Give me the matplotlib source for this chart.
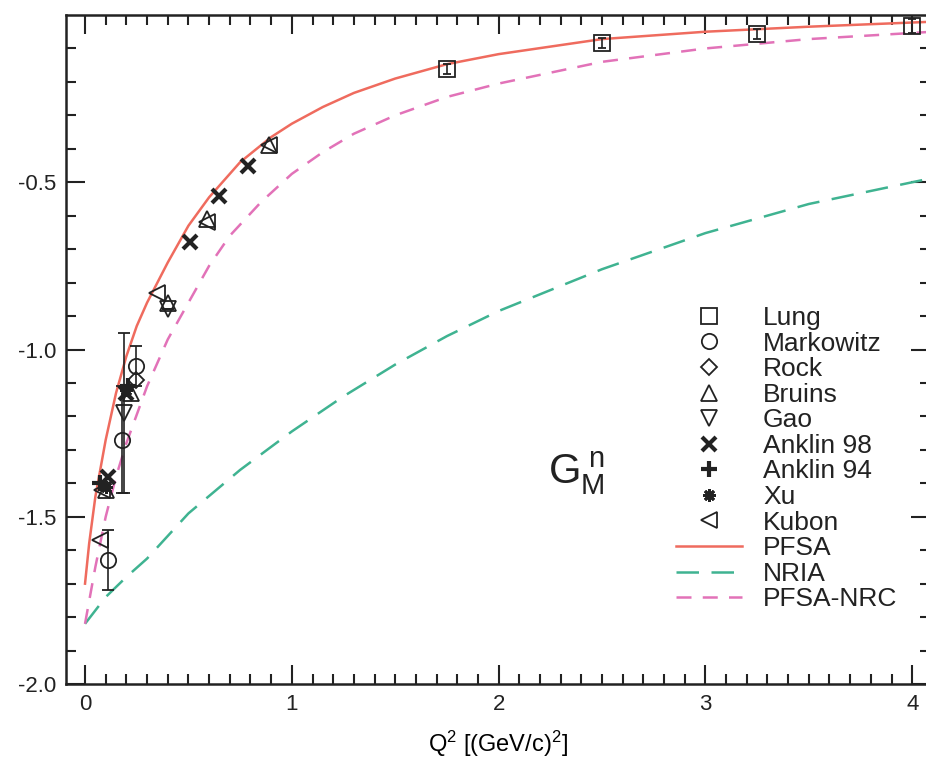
import numpy as np
import matplotlib
matplotlib.use('Agg')
import matplotlib.pyplot as plt
from matplotlib.lines import Line2D

plt.rcParams['font.family'] = ['Liberation Sans', 'DejaVu Sans']
plt.rcParams['mathtext.fontset'] = 'custom'
plt.rcParams['mathtext.rm'] = 'Liberation Sans'
plt.rcParams['mathtext.it'] = 'Liberation Sans'

# theory curves
pfsa_x = [0.0, 0.02, 0.05, 0.1, 0.15, 0.2, 0.25, 0.3, 0.4, 0.5, 0.6, 0.75, 0.9, 1.0, 1.15, 1.3, 1.5, 1.75, 2.0, 2.5, 3.0, 3.5, 4.1]
pfsa_y = [-1.70, -1.58, -1.44, -1.27, -1.13, -1.02, -0.93, -0.86, -0.74, -0.63, -0.545, -0.44, -0.365, -0.325, -0.275, -0.233, -0.19, -0.147, -0.117, -0.072, -0.05, -0.035, -0.02]

nria_x = [0.0, 0.1, 0.2, 0.3, 0.5, 0.75, 1.0, 1.25, 1.5, 1.75, 2.0, 2.5, 3.0, 3.5, 4.1]
nria_y = [-1.82, -1.74, -1.68, -1.625, -1.49, -1.36, -1.245, -1.14, -1.045, -0.96, -0.885, -0.76, -0.652, -0.565, -0.487]

nrc_x = [0.0, 0.05, 0.1, 0.15, 0.2, 0.3, 0.4, 0.5, 0.6, 0.7, 0.85, 1.0, 1.15, 1.3, 1.5, 1.75, 2.0, 2.5, 3.0, 3.5, 4.1]
nrc_y = [-1.82, -1.65, -1.50, -1.38, -1.28, -1.11, -0.97, -0.86, -0.75, -0.66, -0.56, -0.475, -0.41, -0.355, -0.30, -0.245, -0.205, -0.14, -0.10, -0.072, -0.05]

# data sets
lung_x = [1.75, 2.5, 3.25, 4.0]
lung_y = [-0.16, -0.085, -0.057, -0.033]
lung_err = [0.015, 0.015, 0.015, 0.02]

markowitz_x = [0.11, 0.18, 0.245]
markowitz_y = [-1.63, -1.27, -1.05]
markowitz_err = [0.09, 0.16, 0.06]

rock_x = [0.245]
rock_y = [-1.09]

bruins_x = [0.10, 0.22, 0.40, 0.59, 0.89]
bruins_y = [-1.42, -1.13, -0.86, -0.61, -0.39]

gao_x = [0.19, 0.40]
gao_y = [-1.19, -0.88]
gao_err = [0.24, 0.0]

anklin98_x = [0.11, 0.20, 0.51, 0.65, 0.79]
anklin98_y = [-1.38, -1.13, -0.68, -0.54, -0.45]

anklin94_x = [0.07, 0.21]
anklin94_y = [-1.40, -1.11]

xu_x = [0.10, 0.20]
xu_y = [-1.41, -1.12]

kubon_x = [0.07, 0.08, 0.35, 0.59, 0.89]
kubon_y = [-1.57, -1.42, -0.83, -0.62, -0.39]

red = '#ef6b5e'
green = '#3fb391'
pink = '#e272b8'
ink = '#222222'

fig = plt.figure(figsize=(9.26, 7.61), dpi=100)
ax = fig.add_axes([66 / 926, 1 - 684 / 761, (930 - 66) / 926, (684 - 15) / 761])

ax.plot(pfsa_x, pfsa_y, color=red, lw=1.8)
ax.plot(nria_x, nria_y, color=green, lw=1.8, dashes=(9, 5))
ax.plot(nrc_x, nrc_y, color=pink, lw=1.8, dashes=(6, 4.5))

ms = 11
mk = dict(color=ink, mfc='none', mec=ink, mew=1.3, ms=ms, ls='none')
ax.errorbar(lung_x, lung_y, yerr=lung_err, marker='s', capsize=3, elinewidth=1.2, **mk)
ax.errorbar(markowitz_x, markowitz_y, yerr=markowitz_err, marker='o', capsize=4, elinewidth=1.2, **mk)
ax.plot(rock_x, rock_y, marker='D', **dict(mk, ms=8))
ax.plot(bruins_x, bruins_y, marker='^', **mk)
ax.errorbar(gao_x, gao_y, yerr=gao_err, marker='v', capsize=4, elinewidth=1.2, **mk)
ax.plot(anklin98_x, anklin98_y, marker='x', **dict(mk, mew=3, ms=10))
ax.plot(anklin94_x, anklin94_y, marker='+', **dict(mk, mew=3, ms=11))
ax.plot(xu_x, xu_y, marker=(8, 2, 0), **dict(mk, mew=2, ms=9))
ax.plot(kubon_x, kubon_y, marker='<', **mk)

ax.set_xlim(-0.092, 4.086)
ax.set_ylim(-2.0, 0.0)
ax.set_xticks([0, 1, 2, 3, 4])
ax.set_xticks(np.arange(0, 4.1, 0.1), minor=True)
ax.set_yticks([-2.0, -1.5, -1.0, -0.5])
ax.set_yticks(np.arange(-2.0, 0.0, 0.1), minor=True)
ax.set_yticklabels(['-2.0', '-1.5', '-1.0', '-0.5'])
ax.tick_params(which='both', direction='in', top=True, right=True, width=1.5, colors=ink, labelsize=16)
ax.tick_params(which='major', length=14, pad=7)
ax.tick_params(which='minor', length=7)
for s in ax.spines.values():
    s.set_linewidth(1.8)
    s.set_color(ink)

ax.set_xlabel(r'Q$^2$ [(GeV/c)$^2$]', fontsize=17, labelpad=10)

ax.text(2.24, -1.40, r'$\mathrm{G}_\mathrm{M}^{\ \mathrm{n}}$', fontsize=30, color=ink)

handles = [
    Line2D([], [], marker='s', **mk),
    Line2D([], [], marker='o', **mk),
    Line2D([], [], marker='D', **dict(mk, ms=8)),
    Line2D([], [], marker='^', **mk),
    Line2D([], [], marker='v', **mk),
    Line2D([], [], marker='x', **dict(mk, mew=3, ms=10)),
    Line2D([], [], marker='+', **dict(mk, mew=3, ms=11)),
    Line2D([], [], marker=(8, 2, 0), **dict(mk, mew=2, ms=9)),
    Line2D([], [], marker='<', **mk),
    Line2D([], [], color=red, lw=1.8),
    Line2D([], [], color=green, lw=1.8, dashes=(9, 5)),
    Line2D([], [], color=pink, lw=1.8, dashes=(6, 4.5)),
]
labels = ['Lung', 'Markowitz', 'Rock', 'Bruins', 'Gao', 'Anklin 98', 'Anklin 94', 'Xu', 'Kubon',
          'PFSA', 'NRIA', 'PFSA-NRC']
fig.legend(handles, labels, loc='upper left', bbox_to_anchor=(676 / 926, 1 - 306 / 761),
           frameon=False, fontsize=19, handlelength=2.5, handletextpad=0.8,
           labelspacing=0.06, borderpad=0, borderaxespad=0, labelcolor=ink)

fig.savefig('out.png', dpi=100)
